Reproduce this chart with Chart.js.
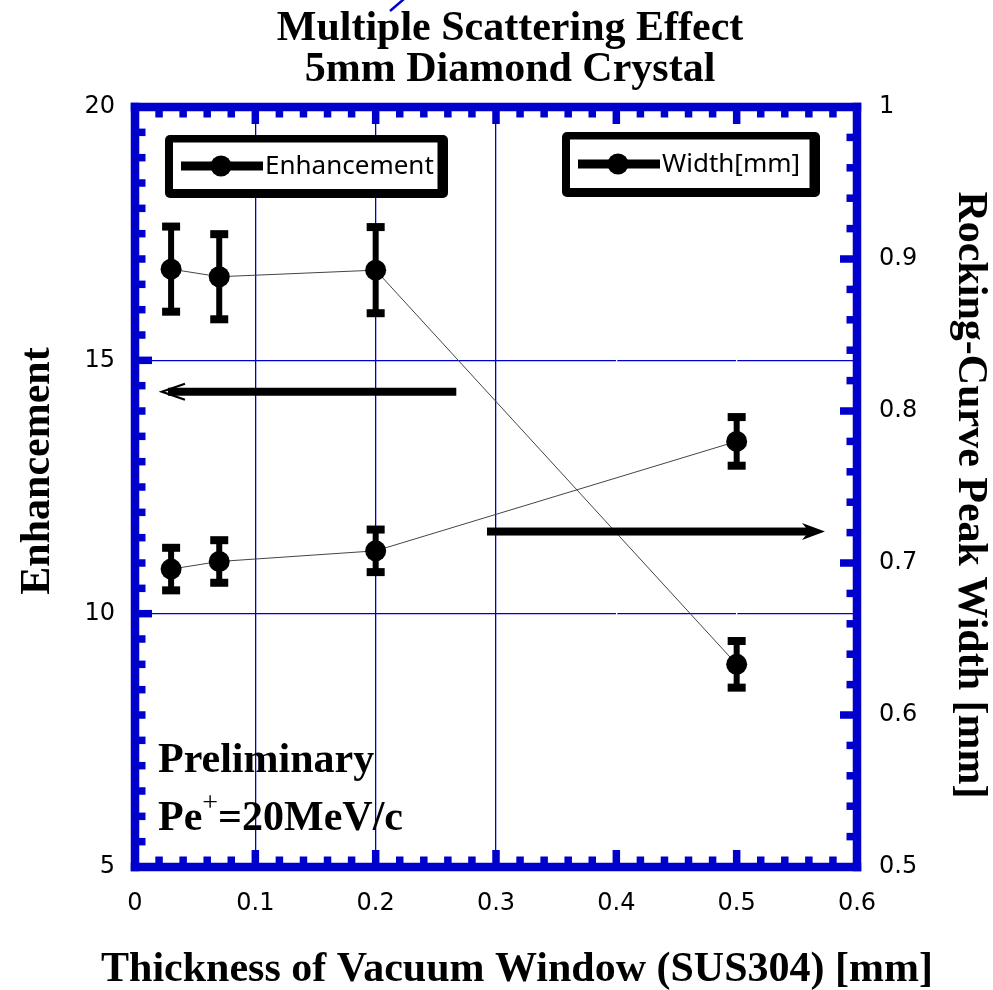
<!DOCTYPE html>
<html>
<head>
<meta charset="utf-8">
<script src="https://cdn.jsdelivr.net/npm/chart.js@4.4.1/dist/chart.umd.min.js"></script>
<style>
  html, body { margin: 0; padding: 0; background: #fff; }
  #wrap { width: 993px; height: 990px; }
</style>
</head>
<body>
<div id="wrap"><canvas id="scatter-chart" width="993" height="990"></canvas></div>
<script>
// window thickness [mm]
const thickness = [0.03, 0.07, 0.2, 0.5];
// enhancement (left axis) and its error
const enhancement = [16.8, 16.65, 16.78, 9.0];
const enhancementErr = [0.84, 0.84, 0.85, 0.46];
// rocking-curve peak width [mm] (right axis) and its error
const peakWidth = [0.696, 0.701, 0.708, 0.780];
const peakWidthErr = [0.014, 0.014, 0.014, 0.016];

const xTicks = [0, 0.1, 0.2, 0.3, 0.4, 0.5, 0.6];
const yTicks = [5, 10, 15, 20];
const y1Ticks = [0.5, 0.6, 0.7, 0.8, 0.9, 1];

const BLUE = "#0000cc";
const SERIF = '"Liberation Serif", "Times New Roman", serif';

// vertical grid: blue up to 0.3, white cuts at 0.4 / 0.5
const xGridBlue = [0.1, 0.2, 0.3];
const xGridWhite = [0.4, 0.5];
const yGridBlue = [10, 15];

const fmt = (v) => String(Math.round(v * 100) / 100);
const near = (list, v) => list.some((t) => Math.abs(t - v) < 1e-6);

// thick blue frame with inward ticks
const framePlugin = {
  id: "frame",
  beforeDatasetsDraw(chart) {
    const { ctx, chartArea: a, scales } = chart;
    const t = 8.5;
    const tw = 7.5;
    ctx.save();
    ctx.fillStyle = BLUE;
    ctx.fillRect(a.left - t / 2, a.top - t / 2, a.right - a.left + t, t);
    ctx.fillRect(a.left - t / 2, a.bottom - t / 2, a.right - a.left + t, t);
    ctx.fillRect(a.left - t / 2, a.top - t / 2, t, a.bottom - a.top + t);
    ctx.fillRect(a.right - t / 2, a.top - t / 2, t, a.bottom - a.top + t);

    // x ticks every 0.02, major every 0.1
    for (let i = 1; i < 30; i++) {
      const px = scales.x.getPixelForValue(i * 0.02);
      const len = i % 5 === 0 ? 17 : 10.5;
      ctx.fillRect(px - tw / 2, a.top, tw, len);
      ctx.fillRect(px - tw / 2, a.bottom - len, tw, len);
    }
    // left ticks every 0.5, major every 5
    for (let i = 1; i < 30; i++) {
      const py = scales.y.getPixelForValue(5 + i * 0.5);
      const len = i % 10 === 0 ? 17 : 10.5;
      ctx.fillRect(a.left, py - tw / 2, len, tw);
    }
    // right ticks every 0.02, major every 0.1
    for (let i = 1; i < 25; i++) {
      const py = scales.y1.getPixelForValue(0.5 + i * 0.02);
      const len = i % 5 === 0 ? 17 : 10.5;
      ctx.fillRect(a.right - len, py - tw / 2, len, tw);
    }
    ctx.restore();
  },
};

// vertical error bars with flat caps
const errorBarPlugin = {
  id: "errorBars",
  afterDatasetsDraw(chart) {
    const { ctx } = chart;
    ctx.save();
    ctx.fillStyle = "#000";
    chart.data.datasets.forEach((ds, i) => {
      const yScale = chart.scales[ds.yAxisID];
      ds.data.forEach((p, j) => {
        const px = chart.scales.x.getPixelForValue(p.x);
        const top = yScale.getPixelForValue(p.y + ds.errors[j]);
        const bot = yScale.getPixelForValue(p.y - ds.errors[j]);
        ctx.fillRect(px - 3, top, 6, bot - top);
        ctx.fillRect(px - 9, top - 4, 18, 8);
        ctx.fillRect(px - 9, bot - 4, 18, 8);
        ctx.beginPath();
        ctx.arc(px, yScale.getPixelForValue(p.y), 10.5, 0, Math.PI * 2);
        ctx.fill();
      });
    });
    ctx.restore();
  },
};

// boxed legends, one per series
const legendBoxes = [
  { label: "Enhancement", x: 165, y: 135, w: 283, h: 63 },
  { label: "Width[mm]", x: 562, y: 132, w: 258, h: 65 },
];

const legendPlugin = {
  id: "boxLegend",
  afterDraw(chart) {
    const { ctx } = chart;
    ctx.save();
    legendBoxes.forEach((b) => {
      ctx.fillStyle = "#000";
      ctx.beginPath();
      ctx.roundRect(b.x, b.y, b.w, b.h, 5);
      ctx.fill();
      ctx.fillStyle = "#fff";
      ctx.fillRect(b.x + 8, b.y + 7.5, b.w - 18.5, b.h - 16.5);
      const cy = b.y + b.h / 2 - 0.5;
      ctx.fillStyle = "#000";
      ctx.fillRect(b.x + 16, cy - 4.5, 82, 9);
      ctx.beginPath();
      ctx.arc(b.x + 56, cy, 10.5, 0, Math.PI * 2);
      ctx.fill();
      ctx.font = '26px "Noto Sans"';
      ctx.textBaseline = "middle";
      ctx.fillText(b.label, b.x + 100, cy + 1);
    });
    ctx.restore();
  },
};

// arrows pointing at the axis each series belongs to
const arrows = [
  { axis: "y", y: 14.38, from: 0.267, to: 0.0224, head: "open" },
  { axis: "y1", y: 0.7207, from: 0.2925, to: 0.5734, head: "solid" },
];

const textPlugin = {
  id: "annotations",
  afterDraw(chart) {
    const { ctx, scales } = chart;
    ctx.save();
    ctx.fillStyle = "#000";
    ctx.strokeStyle = "#000";

    arrows.forEach((ar) => {
      const py = scales[ar.axis].getPixelForValue(ar.y);
      const x0 = scales.x.getPixelForValue(ar.from);
      const x1 = scales.x.getPixelForValue(ar.to);
      const dir = Math.sign(x1 - x0);
      if (ar.head === "open") {
        ctx.fillRect(Math.min(x0, x1 - dir * 6), py - 4, Math.abs(x1 - dir * 6 - x0), 8);
        ctx.lineWidth = 2.2;
        ctx.beginPath();
        ctx.moveTo(x1 - dir * 23, py - 8);
        ctx.lineTo(x1, py);
        ctx.lineTo(x1 - dir * 23, py + 8);
        ctx.stroke();
      } else {
        ctx.fillRect(Math.min(x0, x1 - dir * 16), py - 4, Math.abs(x1 - dir * 16 - x0), 8);
        ctx.beginPath();
        ctx.moveTo(x1, py);
        ctx.lineTo(x1 - dir * 23, py - 8.5);
        ctx.lineTo(x1 - dir * 16, py);
        ctx.lineTo(x1 - dir * 23, py + 8.5);
        ctx.closePath();
        ctx.fill();
      }
    });

    ctx.font = "bold 42px " + SERIF;
    ctx.textBaseline = "alphabetic";
    ctx.textAlign = "center";
    ctx.fillText("Multiple Scattering Effect", 510, 40);
    ctx.fillText("5mm Diamond Crystal", 510, 81);
    ctx.fillText("Thickness of Vacuum Window (SUS304) [mm]", 517, 981);

    ctx.save();
    ctx.translate(49, 471);
    ctx.rotate(-Math.PI / 2);
    ctx.fillText("Enhancement", 0, 0);
    ctx.restore();

    ctx.save();
    ctx.translate(959, 495);
    ctx.rotate(Math.PI / 2);
    ctx.fillText("Rocking-Curve Peak Width [mm]", 0, 0);
    ctx.restore();

    ctx.textAlign = "left";
    ctx.fillText("Preliminary", 158, 772);
    ctx.fillText("Pe", 158, 830);
    const peW = ctx.measureText("Pe").width;
    ctx.font = "28px " + SERIF;
    ctx.fillText("+", 158 + peW, 811);
    const plusW = ctx.measureText("+").width;
    ctx.font = "bold 42px " + SERIF;
    ctx.fillText("=20MeV/c", 158 + peW + plusW, 830);

    // stray pen stroke above the title
    ctx.strokeStyle = BLUE;
    ctx.lineWidth = 2.5;
    ctx.beginPath();
    ctx.moveTo(390, 11);
    ctx.lineTo(404, -1);
    ctx.stroke();
    ctx.restore();
  },
};

const tickFont = { family: '"DejaVu Sans"', size: 24 };

new Chart(document.getElementById("scatter-chart").getContext("2d"), {
  type: "scatter",
  data: {
    datasets: [
      {
        label: "Enhancement",
        data: thickness.map((x, i) => ({ x: x, y: enhancement[i] })),
        errors: enhancementErr,
        yAxisID: "y",
        showLine: true,
        borderColor: "#444",
        borderWidth: 1,
        pointRadius: 0,
      },
      {
        label: "Width[mm]",
        data: thickness.map((x, i) => ({ x: x, y: peakWidth[i] })),
        errors: peakWidthErr,
        yAxisID: "y1",
        showLine: true,
        borderColor: "#444",
        borderWidth: 1,
        pointRadius: 0,
      },
    ],
  },
  options: {
    animation: false,
    responsive: false,
    devicePixelRatio: 1,
    layout: { padding: { top: 107, left: 0, right: 0, bottom: 0 } },
    plugins: {
      legend: { display: false },
      tooltip: { enabled: false },
    },
    scales: {
      x: {
        type: "linear",
        min: 0,
        max: 0.6,
        afterBuildTicks: (s) => { s.ticks = xTicks.map((v) => ({ value: v })); },
        afterFit: (s) => { s.height = 123; },
        border: { display: false },
        grid: {
          drawTicks: false,
          lineWidth: 1.3,
          color: (c) =>
            near(xGridBlue, c.tick.value) ? BLUE :
            near(xGridWhite, c.tick.value) ? "#fff" : "rgba(0,0,0,0)",
        },
        ticks: { padding: 22, color: "#000", font: tickFont, callback: fmt, maxRotation: 0 },
      },
      y: {
        type: "linear",
        position: "left",
        min: 5,
        max: 20,
        afterBuildTicks: (s) => { s.ticks = yTicks.map((v) => ({ value: v })); },
        afterFit: (s) => { s.width = 135; },
        border: { display: false },
        grid: {
          z: -2,
          drawTicks: false,
          lineWidth: 1.3,
          color: (c) => (near(yGridBlue, c.tick.value) ? BLUE : "rgba(0,0,0,0)"),
        },
        ticks: { padding: 20, color: "#000", font: tickFont, callback: fmt },
      },
      y1: {
        type: "linear",
        position: "right",
        min: 0.5,
        max: 1,
        afterBuildTicks: (s) => { s.ticks = y1Ticks.map((v) => ({ value: v })); },
        afterFit: (s) => { s.width = 136; },
        border: { display: false },
        grid: { drawOnChartArea: false, drawTicks: false },
        ticks: { padding: 22, color: "#000", font: tickFont, callback: fmt },
      },
    },
  },
  plugins: [framePlugin, errorBarPlugin, legendPlugin, textPlugin],
});
</script>
</body>
</html>
